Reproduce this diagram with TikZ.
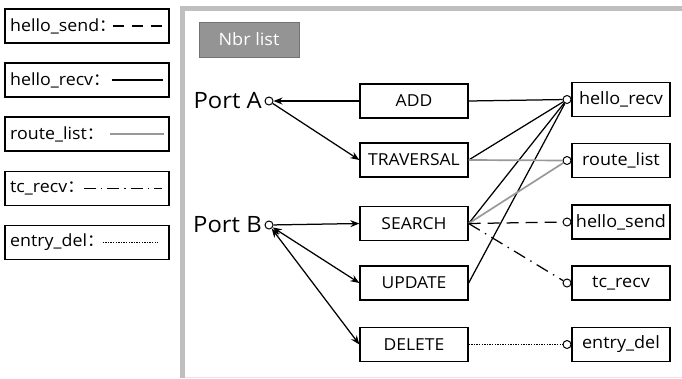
\documentclass[tikz,border=0pt]{standalone}
\usepackage{fontspec}
\setmainfont[FakeStretch=1.06]{Open Sans}
\newfontfamily\cjk{Noto Sans CJK SC}
\usetikzlibrary{arrows.meta,calc}
\newcommand{\fwcolon}{{\cjk ：}}
\begin{document}
\begin{tikzpicture}[x=1pt,y=-1pt,
  legendbox/.style={draw=black,line width=1.3pt,minimum width=164pt,minimum height=34pt,inner sep=0pt},
  legendtext/.style={anchor=west,inner sep=0pt,font=\fontsize{16.8}{19}\selectfont},
  opbox/.style={draw=black,line width=1.3pt,minimum width=108pt,minimum height=34pt,inner sep=0pt,font=\fontsize{16.5}{18}\selectfont},
  msgbox/.style={draw=black,line width=1.3pt,minimum width=98pt,minimum height=34pt,inner sep=0pt,font=\fontsize{17}{19}\selectfont},
  port/.style={circle,draw=black,line width=1pt,fill=white,minimum size=8pt,inner sep=0pt},
  portlabel/.style={anchor=east,inner sep=0pt,font=\fontsize{22.5}{24}\selectfont},
  link/.style={line width=1.25pt,black},
  arr/.style={-{Stealth[length=9pt,width=7pt]}},
  biarr/.style={{Stealth[length=9pt,width=7pt]}-{Stealth[length=9pt,width=7pt]}},
  grayline/.style={line width=1.7pt,color=black!40},
  hsdash/.style={line width=1.25pt,dash pattern=on 12pt off 7pt},
  tcdash/.style={line width=1.25pt,dash pattern=on 13pt off 6pt on 1.5pt off 6pt},
  deldot/.style={line width=1.25pt,dash pattern=on 1.4pt off 1.2pt}]

\useasboundingbox (0,0) rectangle (682,378);
\fill[white] (0,0) rectangle (682,378);

% frame of the main panel
\draw[line width=0.6pt,black!10] (182,377) -- (682,377);
\draw[line width=5pt,black!25] (182,377.5) -- (182,8) -- (682,8);

% legend
\node[legendbox] (lg1) at (87,26) {};
\node[legendtext] (lt1) at (10,26) {hello\_send\fwcolon};
\draw[link,dash pattern=on 11pt off 8pt] ($(lg1.east)+(-57,0)$) -- ($(lg1.east)+(-6,0)$);

\node[legendbox] (lg2) at (87,80) {};
\node[legendtext] (lt2) at (10,80) {hello\_recv\fwcolon};
\draw[link] ($(lg2.east)+(-58,0)$) -- ($(lg2.east)+(-7,0)$);

\node[legendbox] (lg3) at (87,134) {};
\node[legendtext] (lt3) at (10,134) {route\_list\fwcolon};
\draw[grayline] ($(lg3.east)+(-60,0)$) -- ($(lg3.east)+(-6,0)$);

\node[legendbox] (lg4) at (87,188.5) {};
\node[legendtext] (lt4) at (10,188.5) {tc\_recv\fwcolon};
\draw[link,dash pattern=on 12pt off 5pt on 1.5pt off 5pt] ($(lg4.east)+(-86,0)$) -- ($(lg4.east)+(-8,0)$);

\node[legendbox] (lg5) at (87,242.5) {};
\node[legendtext] (lt5) at (10,242.5) {entry\_del\fwcolon};
\draw[link,dash pattern=on 1.4pt off 1.2pt] ($(lg5.east)+(-67,0)$) -- ($(lg5.east)+(-12,0)$);

% title tab
\node[draw=black!55,fill=black!42,line width=1pt,minimum width=100pt,minimum height=35pt,inner sep=0pt,
      text=white,font=\fontsize{17}{18}\selectfont] (nbr) at (249,39.5) {Nbr list};

% ports
\node[port] (pa) at (269,101) {};
\node[portlabel] (pal) at (262,101) {Port A};
\node[port] (pb) at (269,225) {};
\node[portlabel] (pbl) at (262,225) {Port B};

% operations
\node[opbox] (add) at (414,101) {ADD};
\node[opbox] (trav) at (414,160) {TRAVERSAL};
\node[opbox] (search) at (414,223.5) {SEARCH};
\node[opbox] (update) at (414,283) {UPDATE};
\node[opbox] (delete) at (414,344.5) {DELETE};

% messages
\node[msgbox] (hr) at (621,99.5) {hello\_recv};
\node[msgbox] (rl) at (621,160.5) {route\_list};
\node[msgbox] (hs) at (621,222) {hello\_send};
\node[msgbox] (tc) at (621,283) {tc\_recv};
\node[msgbox] (ed) at (621,344.5) {entry\_del};

\node[port] (chr) at (567,99.5) {};
\node[port] (crl) at (567,160.5) {};
\node[port] (chs) at (567,222) {};
\node[port] (ctc) at (567,283) {};
\node[port] (ced) at (567,344.5) {};

% port connections
\draw[link,arr] (add.west) -- (pa);
\draw[link,arr] (pa) -- (trav.west);
\draw[link,arr] (pb) -- (search.west);
\draw[link,biarr] (pb) -- (update.west);
\draw[link,biarr] (pb) -- (delete.west);

% message connections
\draw[link] (add.east) -- (chr);
\draw[link] (trav.east) -- (chr);
\draw[link] (search.east) -- (chr);
\draw[link] (update.east) -- (chr);
\draw[grayline] (trav.east) -- (crl);
\draw[grayline] (search.east) -- (crl);
\draw[hsdash] (search.east) -- (chs);
\draw[tcdash] (search.east) -- (ctc);
\draw[deldot] (delete.east) -- (ced);
\end{tikzpicture}
\end{document}
